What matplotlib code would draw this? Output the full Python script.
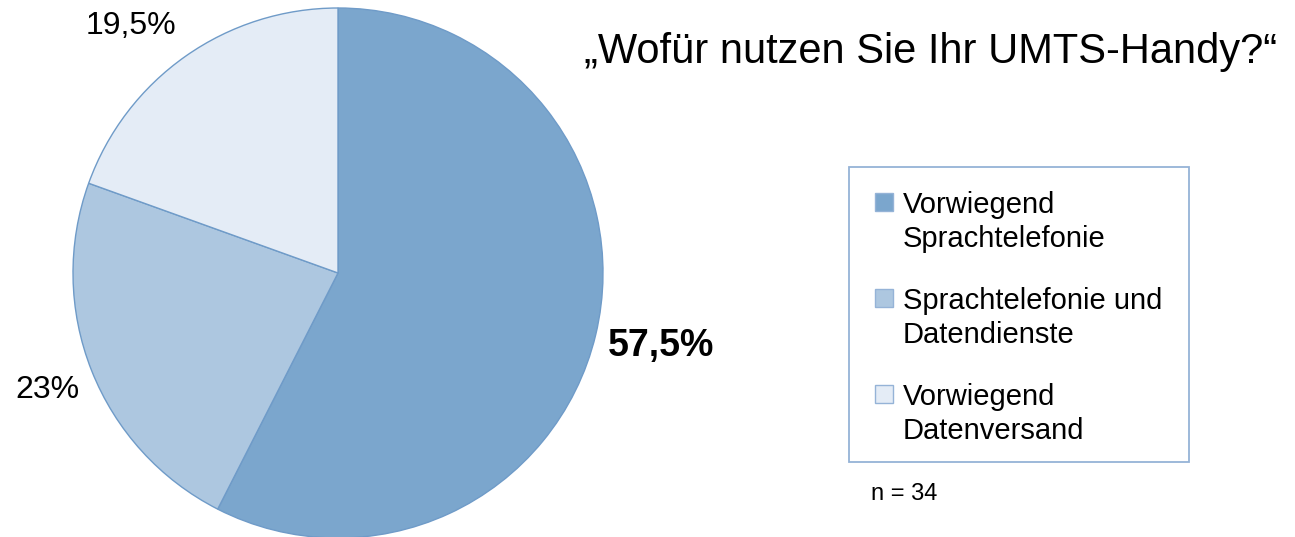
import matplotlib
matplotlib.use("Agg")
import matplotlib.pyplot as plt
from matplotlib.patches import Rectangle

categories = ["Vorwiegend\nSprachtelefonie", "Sprachtelefonie und\nDatendienste", "Vorwiegend\nDatenversand"]
values = [57.5, 23, 19.5]
value_labels = ["57,5%", "23%", "19,5%"]
colors = ["#7BA6CD", "#ADC7E0", "#E4ECF6"]

plt.rcParams["font.family"] = ["Liberation Sans", "DejaVu Sans"]

W, H = 1295, 537
fig = plt.figure(figsize=(W / 100, H / 100), dpi=100)

# pie axes placed in pixel coords
cx, cy, r = 338, 273, 265
ax = fig.add_axes([(cx - r) / W, (H - cy - r) / H, 2 * r / W, 2 * r / H])
ax.pie(values, colors=colors, startangle=90, counterclock=False, radius=1,
       wedgeprops=dict(edgecolor="#6F9BC8", linewidth=1))
ax.set_xlim(-1, 1)
ax.set_ylim(-1, 1)
ax.set_aspect("equal")
ax.axis("off")


def px(x, y):
    return x / W, 1 - y / H


# value labels
fig.text(*px(661, 346), value_labels[0], fontsize=27, fontweight="bold", ha="center", va="center")
fig.text(*px(47, 390), value_labels[1], fontsize=23, ha="center", va="center")
fig.text(*px(131, 26), value_labels[2], fontsize=23, ha="center", va="center")

# title
fig.text(*px(931, 63), "\u201eWofür nutzen Sie Ihr UMTS-Handy?\u201c", fontsize=30,
         ha="center", va="baseline")

# legend drawn by hand
fig.patches.append(Rectangle(px(849, 462), 340 / W, 295 / H, transform=fig.transFigure,
                             fill=False, edgecolor="#95B3D7", linewidth=1.3))
for i, (lab, c) in enumerate(zip(categories, colors)):
    base = 213 + 96 * i
    fig.patches.append(Rectangle(px(875, base - 2), 18 / W, 18 / H, transform=fig.transFigure,
                                 facecolor=c, edgecolor="#95B3D7", linewidth=1))
    for j, line in enumerate(lab.split("\n")):
        fig.text(*px(903, base + 34 * j), line, fontsize=21, ha="left", va="baseline")

fig.text(*px(871, 500), "n = 34", fontsize=17, ha="left", va="baseline")

fig.savefig("out.png", dpi=100)
